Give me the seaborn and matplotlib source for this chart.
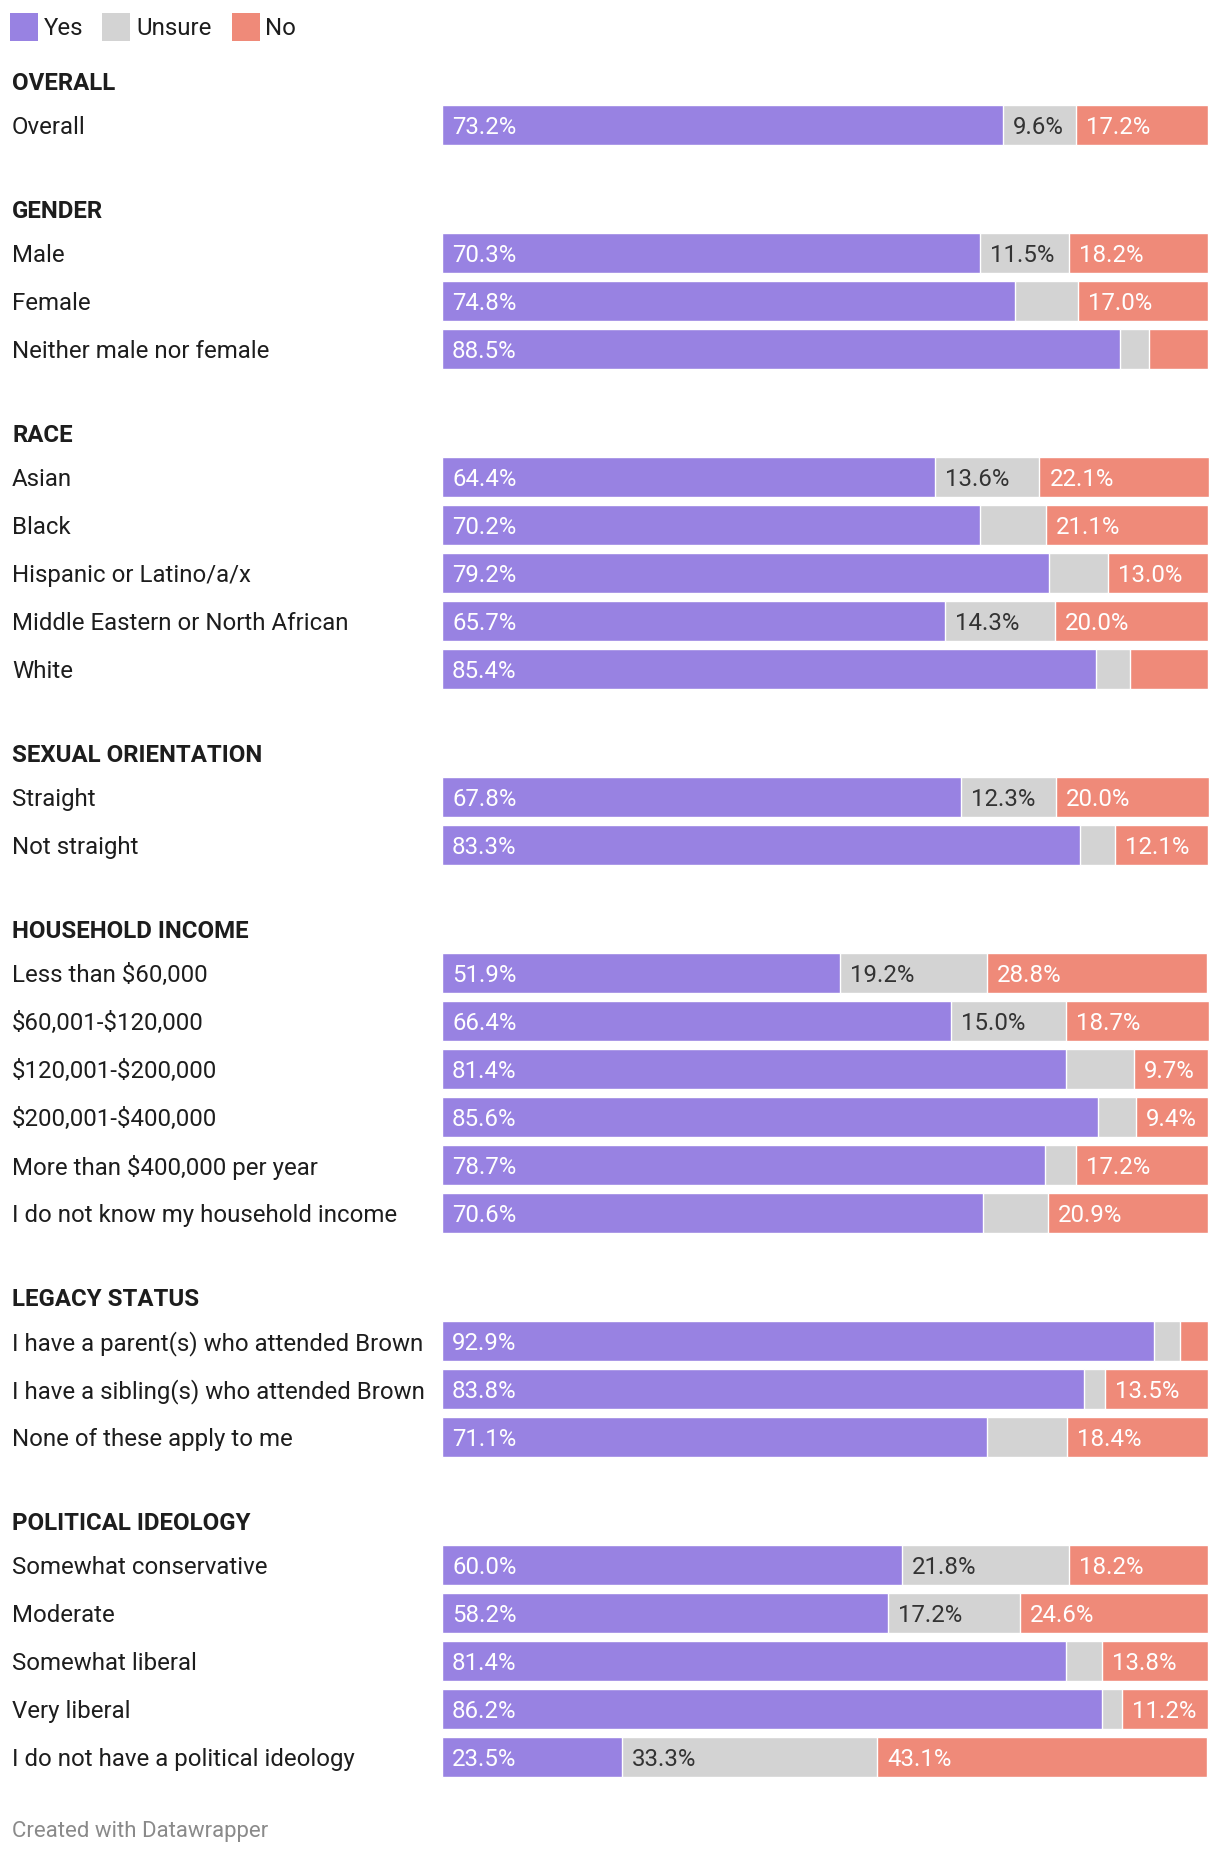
import matplotlib
matplotlib.use('Agg')
import matplotlib.pyplot as plt
import seaborn as sns
import pandas as pd
import numpy as np
from matplotlib.patches import Rectangle

# data
groups = ['OVERALL', 'GENDER', 'RACE', 'SEXUAL ORIENTATION', 'HOUSEHOLD INCOME',
          'LEGACY STATUS', 'POLITICAL IDEOLOGY']
group_sizes = [1, 3, 5, 2, 6, 3, 5]
categories = [
    'Overall',
    'Male', 'Female', 'Neither male nor female',
    'Asian', 'Black', 'Hispanic or Latino/a/x', 'Middle Eastern or North African', 'White',
    'Straight', 'Not straight',
    'Less than $60,000', '$60,001-$120,000', '$120,001-$200,000', '$200,001-$400,000',
    'More than $400,000 per year', 'I do not know my household income',
    'I have a parent(s) who attended Brown', 'I have a sibling(s) who attended Brown',
    'None of these apply to me',
    'Somewhat conservative', 'Moderate', 'Somewhat liberal', 'Very liberal',
    'I do not have a political ideology',
]
yes = [73.2,
       70.3, 74.8, 88.5,
       64.4, 70.2, 79.2, 65.7, 85.4,
       67.8, 83.3,
       51.9, 66.4, 81.4, 85.6, 78.7, 70.6,
       92.9, 83.8, 71.1,
       60.0, 58.2, 81.4, 86.2, 23.5]
unsure = [9.6,
          11.5, 8.2, 3.8,
          13.6, 8.7, 7.8, 14.3, 4.4,
          12.3, 4.6,
          19.2, 15.0, 8.9, 5.0, 4.1, 8.5,
          3.4, 2.7, 10.5,
          21.8, 17.2, 4.8, 2.6, 33.3]
no = [17.2,
      18.2, 17.0, 7.7,
      22.1, 21.1, 13.0, 20.0, 10.2,
      20.0, 12.1,
      28.8, 18.7, 9.7, 9.4, 17.2, 20.9,
      3.7, 13.5, 18.4,
      18.2, 24.6, 13.8, 11.2, 43.1]
# which segment values carry a printed label in the original
show_unsure = [1,
               1, 0, 0,
               1, 0, 0, 1, 0,
               1, 0,
               1, 1, 0, 0, 0, 0,
               0, 0, 0,
               1, 1, 0, 0, 1]
show_no = [1,
           1, 1, 0,
           1, 1, 1, 1, 0,
           1, 1,
           1, 1, 1, 1, 1, 1,
           0, 1, 1,
           1, 1, 1, 1, 1]
series = ['Yes', 'Unsure', 'No']

c_yes = '#9882e2'
c_unsure = '#d3d3d3'
c_no = '#ef8a79'
txt = '#1d1d1d'

sns.set_theme(style='white')
plt.rcParams['font.family'] = ['Roboto', 'DejaVu Sans']
plt.rcParams['text.parse_math'] = False
fs = 17.3

W, H = 1220, 1856
fig = plt.figure(figsize=(W / 100, H / 100), dpi=100)
ax = fig.add_axes([0, 0, 1, 1])

# row positions (row units), extra gap between groups
pos = []
header_pos = []
p = 0.0
for n in group_sizes:
    header_pos.append(p - 0.915)
    for i in range(n):
        pos.append(p + i)
    p = p + n - 1 + 2.67

df = pd.DataFrame({'cat': categories, 'pos': pos, 'yes': yes,
                   'unsure': unsure, 'no': no,
                   'show_unsure': show_unsure, 'show_no': show_no})
df['yes_unsure'] = df['yes'] + df['unsure']
df['total'] = df['yes_unsure'] + df['no']

# stacked bars drawn as overlapping cumulative layers
for col, c in [('total', c_no), ('yes_unsure', c_unsure), ('yes', c_yes)]:
    sns.barplot(data=df, x=col, y='pos', orient='y', native_scale=True,
                color=c, saturation=1, width=0.834, errorbar=None, ax=ax)

px_per_unit = (1208 - 442) / 100
row_px = 47.96
ax.set_xlim(-442 / px_per_unit, (W - 442) / px_per_unit)
ax.set_ylim((H - 126) / row_px, -126 / row_px)
ax.axis('off')

pad = 10 / px_per_unit
dy = -0.02  # small nudge up so caps sit centred on the bars
ytr = ax.get_yaxis_transform()
for _, r in df.iterrows():
    y = r['pos'] + dy
    ax.text(12 / W, y, r['cat'], transform=ytr, ha='left',
            va='center_baseline', fontsize=fs, color=txt)
    ax.text(pad, y, f"{r['yes']:.1f}%", ha='left', va='center_baseline',
            fontsize=fs, color='white')
    if r['show_unsure']:
        ax.text(r['yes'] + pad, y, f"{r['unsure']:.1f}%", ha='left',
                va='center_baseline', fontsize=fs, color='#333333')
    if r['show_no']:
        ax.text(r['yes_unsure'] + pad, y, f"{r['no']:.1f}%", ha='left',
                va='center_baseline', fontsize=fs, color='white')

for g, hp in zip(groups, header_pos):
    ax.text(12 / W, hp + dy, g, transform=ytr, ha='left', va='center_baseline',
            fontsize=fs, fontweight='bold', color=txt)

# legend
for lab, c, x0, tx in zip(series, [c_yes, c_unsure, c_no], [10, 102, 232], [44, 136, 265]):
    fig.add_artist(Rectangle((x0 / W, 1 - 42 / H), 28 / W, 28 / H,
                             transform=fig.transFigure, color=c, lw=0))
    fig.text(tx / W, 1 - 26 / H, lab, ha='left', va='center_baseline',
             fontsize=fs, color=txt)

fig.text(12 / W, 1 - 1829 / H, 'Created with Datawrapper', ha='left',
         va='center_baseline', fontsize=16, color='#8a8a8a')

fig.savefig('out.png', dpi=100)
